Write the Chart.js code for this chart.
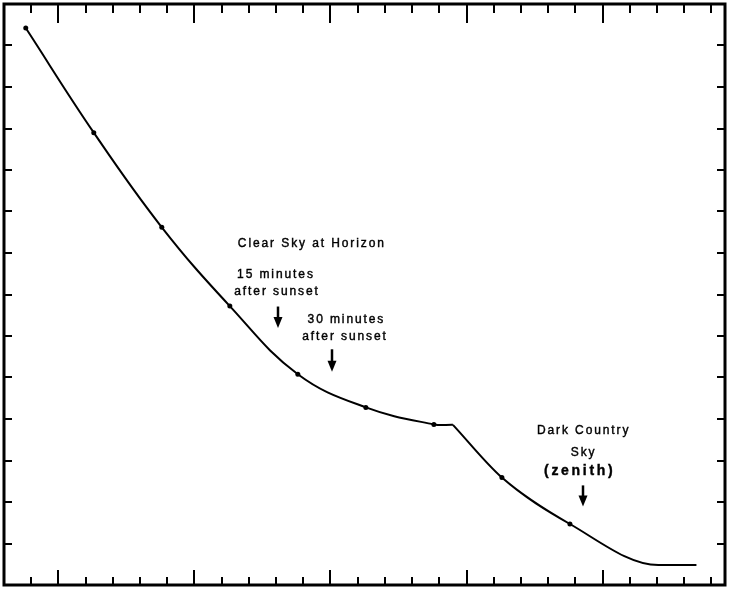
<!DOCTYPE html>
<html>
<head>
<meta charset="utf-8">
<script src="https://cdn.jsdelivr.net/npm/chart.js@4.4.1/dist/chart.umd.min.js"></script>
<style>
  html, body { margin: 0; padding: 0; background: #fff; }
  #wrap { width: 729px; height: 589px; }
</style>
</head>
<body>
<div id="wrap"><canvas id="chart" width="729" height="589"></canvas></div>
<script>
// Sky brightness curve, sunset to dark country sky.
// Values are in axis-tick units (no labels on it).
const xValues = [0.8, 3.3, 5.8, 8.3, 10.8, 13.3, 15.8, 16.5, 18.3, 20.8, 24.05, 25.45];
const yValues = [13.42, 10.90, 8.62, 6.72, 5.08, 4.28, 3.87, 3.86, 2.59, 1.47, 0.48, 0.48];
const measured = [true, true, true, true, true, true, true, false, true, true, false, false];
const KINK = 7; // curve breaks here, so it is drawn in two pieces

const X_MIN = 0, X_MAX = 26.5;
const Y_MIN = 0, Y_MAX = 14;

// annotations, placed in data units (x centre, y baseline)
const noteText = ['Clear Sky at Horizon', '15 minutes', 'after sunset', '30 minutes', 'after sunset', 'Dark Country', 'Sky', '(zenith)'];
const noteX = [11.28, 9.96, 10.0, 12.55, 12.5, 21.27, 21.27, 21.11];
const noteY = [8.15, 7.40, 6.98, 6.32, 5.905, 3.644, 3.11, 2.645];
const arrowX = [10.06, 12.07, 21.27];
const arrowTop = [6.71, 5.68, 2.40];
const arrowTip = [6.19, 5.14, 1.89];

const points = xValues.map((x, i) => ({ x, y: yValues[i] }));

function lineSet(from, to, smooth) {
    return {
        data: points.slice(from, to),
        borderColor: '#000',
        backgroundColor: '#000',
        borderWidth: 2,
        tension: 0.4,
        cubicInterpolationMode: smooth,
        pointRadius: measured.slice(from, to).map((m) => (m ? 2.5 : 0)),
        pointBorderWidth: 0,
        fill: false,
    };
}

const frame = {
    id: 'frame',
    afterDraw(chart) {
        const { ctx, chartArea: a, scales: { x, y } } = chart;
        ctx.save();
        ctx.strokeStyle = '#000';
        ctx.lineWidth = 2;
        ctx.beginPath();
        for (let k = Math.ceil(X_MIN) + 1; k <= X_MAX; k++) {
            const px = Math.round(x.getPixelForValue(k));
            const major = k % 5 === 2;
            ctx.moveTo(px, a.top); ctx.lineTo(px, a.top + (major ? 19 : 9));
            ctx.moveTo(px, a.bottom); ctx.lineTo(px, a.bottom - (major ? 15 : 8));
        }
        for (let v = Y_MIN + 1; v < Y_MAX; v++) {
            const py = Math.round(y.getPixelForValue(v));
            ctx.moveTo(a.left, py); ctx.lineTo(a.left + 8, py);
            ctx.moveTo(a.right, py); ctx.lineTo(a.right - 8, py);
        }
        ctx.stroke();
        ctx.lineWidth = 3;
        ctx.strokeRect(a.left, a.top, a.right - a.left, a.bottom - a.top);

        // text notes
        ctx.fillStyle = '#000';
        ctx.textAlign = 'center';
        ctx.textBaseline = 'alphabetic';
        ctx.lineWidth = 0.4;
        noteText.forEach((t, i) => {
            const big = t === '(zenith)';
            const sp = big ? 2.7 : 1.9;
            ctx.font = big ? 'bold 14px "Liberation Sans", Arial, sans-serif' : '12px "Liberation Sans", Arial, sans-serif';
            ctx.letterSpacing = sp + 'px';
            const tx = x.getPixelForValue(noteX[i]) + sp / 2;
            const ty = y.getPixelForValue(noteY[i]);
            ctx.fillText(t, tx, ty);
            ctx.strokeText(t, tx, ty);
        });
        ctx.letterSpacing = '0px';

        // down arrows
        arrowX.forEach((ax, i) => {
            const px = Math.round(x.getPixelForValue(ax));
            const top = y.getPixelForValue(arrowTop[i]);
            const tip = y.getPixelForValue(arrowTip[i]);
            ctx.lineWidth = 2.5;
            ctx.beginPath();
            ctx.moveTo(px, top); ctx.lineTo(px, tip - 8);
            ctx.stroke();
            ctx.beginPath();
            ctx.moveTo(px - 4.5, tip - 11);
            ctx.lineTo(px + 4.5, tip - 11);
            ctx.lineTo(px, tip);
            ctx.closePath();
            ctx.fill();
        });
        ctx.restore();
    },
};

new Chart(document.getElementById('chart'), {
    type: 'line',
    data: { datasets: [lineSet(0, KINK + 1, 'default'), lineSet(KINK, xValues.length, 'monotone')] },
    options: {
        responsive: false,
        animation: false,
        layout: { padding: { left: 2, right: 2, top: 3, bottom: 2 } },
        plugins: { legend: { display: false }, tooltip: { enabled: false } },
        scales: {
            x: { type: 'linear', min: X_MIN, max: X_MAX, display: false },
            y: { type: 'linear', min: Y_MIN, max: Y_MAX, display: false },
        },
    },
    plugins: [frame],
});
</script>
</body>
</html>
